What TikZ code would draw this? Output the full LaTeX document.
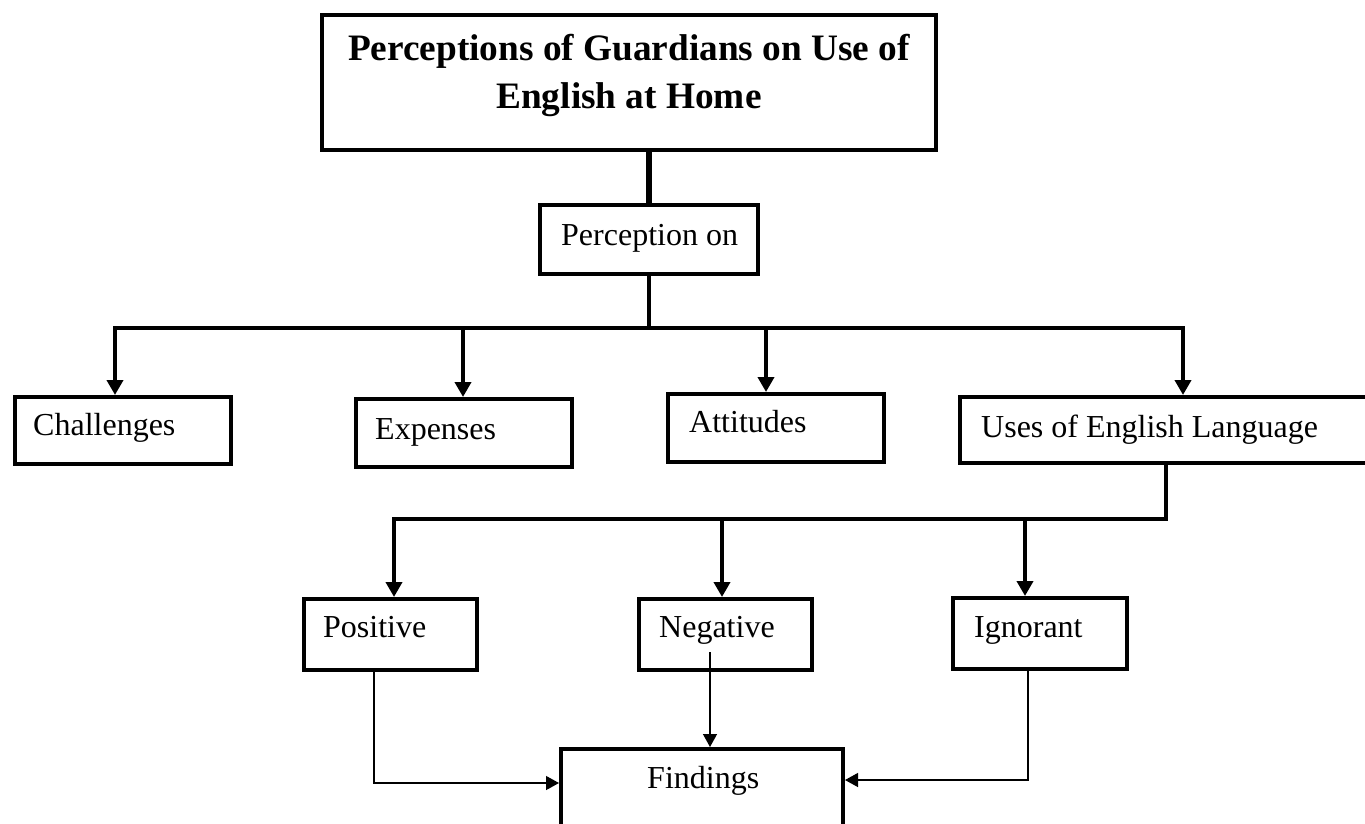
\documentclass[tikz,border=0pt]{standalone}
\usepackage{fontspec}
\setmainfont{Liberation Serif}
\usetikzlibrary{arrows.meta}
\begin{document}
\begin{tikzpicture}[x=1pt,y=-1pt,
  box/.style={draw=black, line width=4pt, inner sep=0pt},
  lbl/.style={inner sep=0pt, anchor=base west, font=\fontsize{32}{38}\selectfont},
  conn/.style={line width=4pt},
  thickarr/.style={line width=4pt, -{Triangle[length=15pt,width=16pt]}},
  thinarr/.style={line width=1.3pt, -{Triangle[length=13pt,width=14pt]}}]
\useasboundingbox (0,0) rectangle (1365,823);
\clip (0,0) rectangle (1365,823);
\fill[white] (0,0) rectangle (1365,823);
% boxes
\node[box, minimum width=614pt, minimum height=135pt] (top) at (629,82.5) {};
\node[box, minimum width=218pt, minimum height=69pt] (perc) at (649,239.5) {};
\node[box, minimum width=216pt, minimum height=67pt] (chal) at (123,430.5) {};
\node[box, minimum width=216pt, minimum height=68pt] (expn) at (464,433) {};
\node[box, minimum width=216pt, minimum height=68pt] (atti) at (776,428) {};
\node[box, minimum width=412pt, minimum height=66pt] (uses) at (1166,430) {};
\node[box, minimum width=173pt, minimum height=71pt] (posi) at (390.5,634.5) {};
\node[box, minimum width=173pt, minimum height=71pt] (nega) at (725.5,634.5) {};
\node[box, minimum width=174pt, minimum height=71pt] (igno) at (1040,633.5) {};
\node[box, minimum width=282pt, minimum height=91pt] (find) at (702,794.5) {};
% texts
\node[inner sep=0pt, anchor=base, align=center, font=\fontsize{37.3}{48}\selectfont\bfseries] (title) at (629,108) {Perceptions of Guardians on Use of\\English at Home};
\node[lbl] (tperc) at (561,245) {Perception on};
\node[lbl] (tchal) at (33,435) {Challenges};
\node[lbl] (texpn) at (375,439) {Expenses};
\node[lbl] (tatti) at (689,432) {Attitudes};
\node[lbl] (tuses) at (981,437) {Uses of English Language};
\node[lbl] (tposi) at (323,637) {Positive};
\node[lbl] (tnega) at (659,637) {Negative};
\node[lbl] (tigno) at (974,637) {Ignorant};
\node[lbl] (tfind) at (647,788) {Findings};
% junction coordinates
\coordinate (j1) at (649,328);
\coordinate (jL) at (115,328);
\coordinate (jE) at (463,328);
\coordinate (jA) at (766,328);
\coordinate (jR) at (1183,328);
\coordinate (k1) at (1166,519);
\coordinate (kL) at (394,519);
\coordinate (kN) at (722,519);
\coordinate (kI) at (1025,519);
\coordinate (p1) at (374,783);
\coordinate (n1) at (710,652);
\coordinate (i1) at (1028,780);
% thick connectors
\draw[line width=5.5pt] (perc.north |- top.south) -- (perc.north);
\draw[conn] (perc.south) -- (j1);
\draw[thickarr] (j1) -- (jL) -- (jL |- chal.north);
\draw[thickarr] (j1) -- (jR) -- (jR |- uses.north);
\draw[thickarr] (jE) -- (jE |- expn.north);
\draw[thickarr] (jA) -- (jA |- atti.north);
\draw[thickarr] (uses.south) -- (k1) -- (kL) -- (kL |- posi.north);
\draw[thickarr] (kN) -- (kN |- nega.north);
\draw[thickarr] (kI) -- (kI |- igno.north);
% thin connectors
\draw[thinarr] (p1 |- posi.south) -- (p1) -- (p1 -| find.west);
\draw[thinarr] (n1) -- (n1 |- find.north);
\draw[thinarr] (i1 |- igno.south) -- (i1) -- (i1 -| find.east);
\end{tikzpicture}
\end{document}
